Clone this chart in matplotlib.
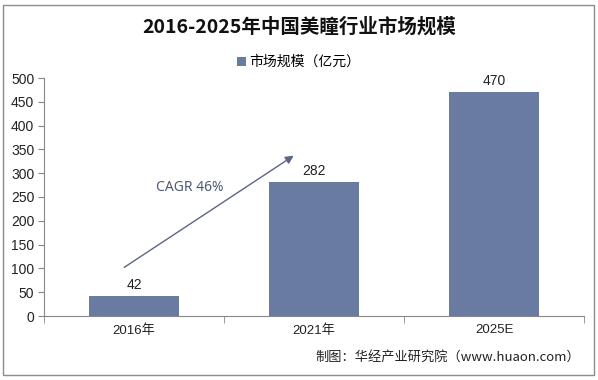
import matplotlib
matplotlib.use("Agg")
import matplotlib.pyplot as plt
from matplotlib.patches import Rectangle

plt.rcParams['font.family'] = ['Liberation Sans', 'Noto Sans CJK SC', 'DejaVu Sans']

categories = ["2016年", "2021年", "2025E"]
values = [42, 282, 470]
series_name = "市场规模（亿元）"
title = "2016-2025年中国美瞳行业市场规模"
cagr_label = "CAGR 46%"
source = "制图：华经产业研究院（www.huaon.com）"

bar_color = "#6a7ba2"
W, H = 598, 380
fig = plt.figure(figsize=(W/100, H/100), dpi=100)

# outer frame
fig.patches.append(Rectangle((3/W, 5/H), 591/W, 370/H, transform=fig.transFigure,
                             fill=False, edgecolor="#8c8c8c", lw=1.0))

ax = fig.add_axes([44/W, (H-316)/H, 540/W, 238/H])
x = list(range(len(categories)))
bars = ax.bar(x, values, width=0.495, color=bar_color, label=series_name, zorder=2)
ax.set_xlim(-0.5, len(categories)-0.5)
ax.set_ylim(0, 500)
ax.set_yticks(range(0, 501, 50))
ax.set_xticks(x)
ax.set_xticklabels(categories, fontsize=9.5, color="#222222")
ax.set_xticks([i - 0.5 for i in range(len(categories)+1)], minor=True)
ax.tick_params(axis='x', which='major', length=0, pad=6)
ax.tick_params(axis='x', which='minor', length=5, color="#888888", direction='out')
ax.tick_params(axis='y', length=4, color="#888888", labelsize=10, labelcolor="#222222", pad=3)
for s in ['top', 'right']:
    ax.spines[s].set_visible(False)
ax.spines['left'].set_color("#888888")
ax.spines['bottom'].set_color("#888888")

for xi, v in zip(x, values):
    ax.text(xi, v + 8, str(v), ha='center', va='bottom', fontsize=10, color="#222222")

ax.annotate("", xy=(0.9, 340), xytext=(-0.067, 99),
            arrowprops=dict(arrowstyle="-|>", color="#5b6584", lw=1.0, mutation_scale=12))
ax.text(0.31, 269, cagr_label, ha='center', va='center', fontsize=10,
        color="#4a5a78", family=['Noto Sans', 'DejaVu Sans'])

fig.text(0.5, (H-27)/H, title, ha='center', va='center', fontsize=14, fontweight='bold',
         color="#111111", family=['Noto Sans CJK SC', 'DejaVu Sans'])
leg = fig.legend(handles=[bars], labels=[series_name], loc='center',
                 bbox_to_anchor=(0.5, (H-62)/H), frameon=False,
                 prop={'size': 10, 'family': ['Noto Sans CJK SC', 'DejaVu Sans']},
                 handlelength=0.6, handleheight=0.6, handletextpad=0.3)
fig.text(580/W, (H-357)/H, source, ha='right', va='center', fontsize=9.5, color="#222222",
         family=['Noto Sans CJK SC', 'DejaVu Sans'])

fig.savefig("out.png", dpi=100)
